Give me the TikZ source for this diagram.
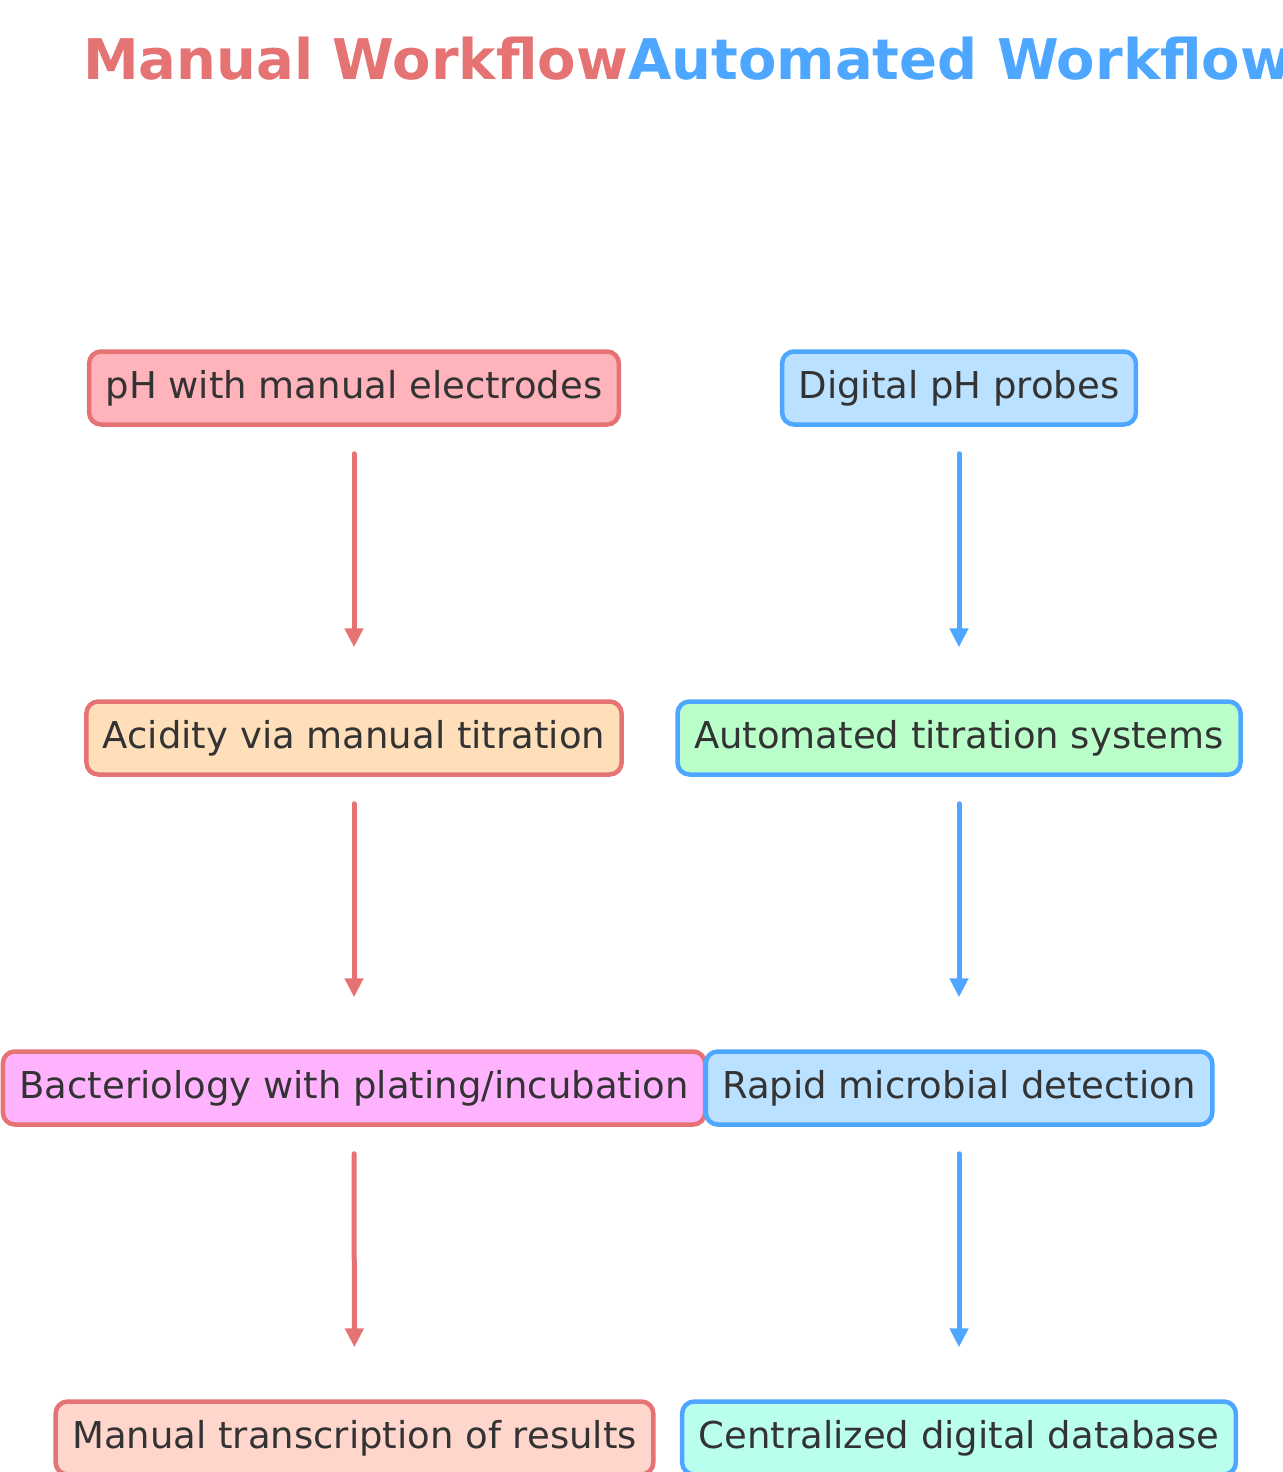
\documentclass[tikz,border=0pt]{standalone}
\usepackage{fontspec}
\setmainfont{DejaVu Sans}
\usetikzlibrary{arrows.meta}
\definecolor{redline}{HTML}{E57373}
\definecolor{blueline}{HTML}{4DA6FF}
\definecolor{txt}{HTML}{333333}
\definecolor{fA}{HTML}{FFB3BA}
\definecolor{fB}{HTML}{BAE1FF}
\definecolor{fC}{HTML}{FFDFBA}
\definecolor{fD}{HTML}{BAFFC9}
\definecolor{fE}{HTML}{FFB3FF}
\definecolor{fF}{HTML}{FFD6CC}
\definecolor{fG}{HTML}{BAFFEE}
\tikzset{
  box/.style={rounded corners=12pt, line width=4.5pt, minimum height=73pt,
    inner xsep=16.5pt, text=txt, font=\fontsize{37}{44}\selectfont},
  mbox/.style={box, draw=redline},
  abox/.style={box, draw=blueline},
  marr/.style={draw=redline, line width=5pt, line cap=round,
    -{Triangle[length=19pt,width=18pt]}, shorten <=27pt, shorten >=52pt},
  aarr/.style={marr, draw=blueline},
  ttl/.style={font=\fontsize{56}{60}\selectfont\bfseries, inner sep=0pt, anchor=base west}
}
\begin{document}
\begin{tikzpicture}[x=1pt,y=-1pt]
\useasboundingbox (0,0) rectangle (1282,1472);
\node[ttl, text=redline] (t1) at (83,80) {Manual Workflow};
\node[ttl, text=blueline] (t2) at (628,80) {Automated Workflow};

\node[mbox, fill=fA] (m1) at (354,388) {pH with manual electrodes};
\node[mbox, fill=fC] (m2) at (354,738) {Acidity via manual titration};
\node[mbox, fill=fE] (m3) at (354,1088) {Bacteriology with plating/incubation};
\node[mbox, fill=fF] (m4) at (354.5,1438) {Manual transcription of results};

\node[abox, fill=fB] (a1) at (959,388) {Digital pH probes};
\node[abox, fill=fD] (a2) at (959,738) {Automated titration systems};
\node[abox, fill=fB] (a3) at (959,1088) {Rapid microbial detection};
\node[abox, fill=fG] (a4) at (959,1438) {Centralized digital database};

\draw[marr] (m1) -- (m2);
\draw[marr] (m2) -- (m3);
\draw[marr] (m3) -- (m4);
\draw[aarr] (a1) -- (a2);
\draw[aarr] (a2) -- (a3);
\draw[aarr] (a3) -- (a4);
\end{tikzpicture}
\end{document}
